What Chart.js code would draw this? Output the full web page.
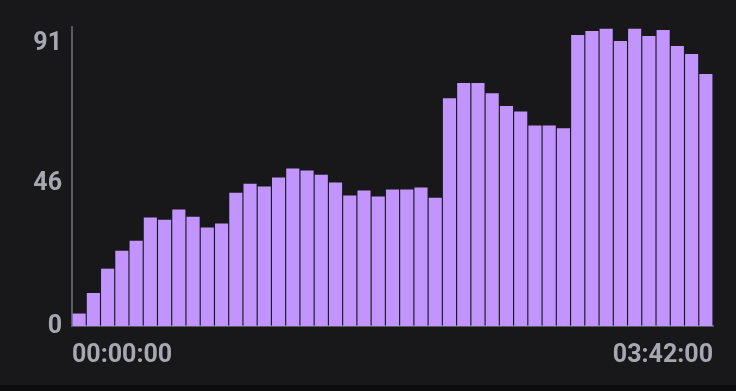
<!DOCTYPE html>
<html>
<head>
<meta charset="utf-8">
<script src="https://cdn.jsdelivr.net/npm/chart.js@4"></script>
<style>
  html, body { margin: 0; padding: 0; background: #0c0c0e; }
  #wrap { width: 736px; height: 385px; background: #18181b; position: relative; }
  canvas { display: block; }
</style>
</head>
<body>
<div id="wrap"><canvas id="c" width="736" height="385"></canvas></div>
<script>
const categories = [
  "00:00:00","00:04:56","00:09:52","00:14:48","00:19:44","00:24:40","00:29:36","00:34:32","00:39:28",
  "00:44:24","00:49:20","00:54:16","00:59:12","01:04:08","01:09:04","01:14:00","01:18:56","01:23:52",
  "01:28:48","01:33:44","01:38:40","01:43:36","01:48:32","01:53:28","01:58:24","02:03:20","02:08:16",
  "02:13:12","02:18:08","02:23:04","02:28:00","02:32:56","02:37:52","02:42:48","02:47:44","02:52:40",
  "02:57:36","03:02:32","03:07:28","03:12:24","03:17:20","03:22:16","03:27:12","03:32:08","03:37:04"
];
const values = [
  4, 10.6, 18.4, 24.2, 27.4, 34.8, 34.1, 37.4, 35.1, 31.6, 32.9, 42.8, 45.7, 44.8, 47.7,
  50.6, 49.9, 48.6, 46.1, 41.9, 43.5, 41.6, 43.8, 43.8, 44.5, 41.2, 73.1, 78.0, 78.0, 74.7,
  70.6, 68.9, 64.4, 64.4, 63.5, 93.4, 94.7, 95.4, 91.5, 95.4, 93.1, 95.0, 89.9, 87.3, 80.9
];
const yTickValues = [0, 46, 91];
const xTickLabels = ["00:00:00", "03:42:00"];

const labelColor = "#a7a7b1";
const axisColor = "#5b5b62";
const tickFont = { family: "Roboto", size: 25, weight: "bold" };

new Chart(document.getElementById("c"), {
  type: "bar",
  data: {
    labels: categories,
    datasets: [{
      data: values,
      backgroundColor: "#c294fd",
      borderWidth: 0,
      barPercentage: 0.92,
      categoryPercentage: 1.0
    }]
  },
  options: {
    responsive: false,
    animation: false,
    events: [],
    layout: { padding: { left: 0, right: 23, top: 27, bottom: 0 } },
    plugins: { legend: { display: false }, tooltip: { enabled: false } },
    scales: {
      x: {
        type: "category",
        display: false,
        offset: true,
        grid: { display: false }
      },
      xt: {
        type: "linear",
        position: "bottom",
        offset: false,
        min: 0,
        max: 1,
        grid: { display: false, drawTicks: false, offset: false },
        border: { display: true, color: axisColor, width: 2 },
        afterBuildTicks: (s) => { s.ticks = [{ value: 0 }, { value: 1 }]; },
        afterFit: (s) => { s.height = 59; },
        ticks: {
          color: labelColor,
          font: tickFont,
          align: "inner",
          padding: 15,
          maxRotation: 0,
          autoSkip: false,
          callback: (v, i) => xTickLabels[i]
        }
      },
      y: {
        min: 0,
        max: 96,
        grid: { display: false, drawTicks: false },
        border: { display: true, color: axisColor, width: 2 },
        afterBuildTicks: (s) => { s.ticks = yTickValues.map(v => ({ value: v })); },
        afterFit: (s) => { s.width = 72; },
        ticks: {
          color: labelColor,
          font: tickFont,
          padding: 10,
          labelOffset: 1,
          autoSkip: false,
          callback: (v) => String(v)
        }
      }
    }
  }
});
</script>
</body>
</html>
